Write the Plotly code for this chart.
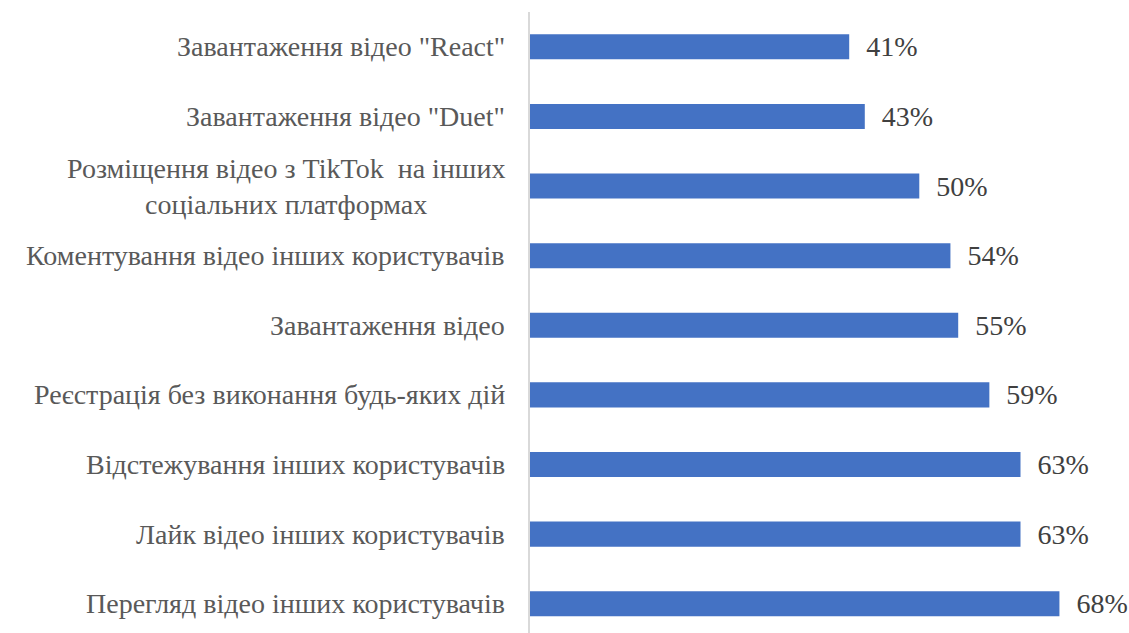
import plotly.graph_objects as go

categories = [
    "Перегляд відео інших користувачів",
    "Лайк відео інших користувачів",
    "Відстежування інших користувачів",
    "Реєстрація без виконання будь-яких дій",
    "Завантаження відео",
    "Коментування відео інших користувачів",
    "Розміщення відео з TikTok\u00a0 на інших<br>соціальних платформах",
    "Завантаження відео \"Duet\"",
    "Завантаження відео \"React\"",
]
values = [0.68, 0.63, 0.63, 0.59, 0.55, 0.54, 0.50, 0.43, 0.41]

FONT = "Times New Roman"

fig = go.Figure(go.Bar(
    y=categories, x=values, orientation="h",
    marker=dict(color="#4472C4", line=dict(width=0)),
    width=0.36,
    texttemplate="\u00a0\u00a0%{x:.0%}",
    textposition="outside",
    constraintext="none",
    textfont=dict(family=FONT, size=28, color="#404040"),
    cliponaxis=False,
))

annotations = []
for c in categories:
    annotations.append(dict(
        x=0, xref="paper", xshift=-23, y=c, yref="y",
        text=c, showarrow=False, xanchor="right", yanchor="middle",
        align="center", font=dict(family=FONT, size=28, color="#595959"),
    ))

fig.update_layout(
    width=1129, height=633,
    margin=dict(l=530, r=54, t=12, b=0),
    paper_bgcolor="white", plot_bgcolor="white",
    showlegend=False,
    font=dict(family=FONT),
    annotations=annotations,
    xaxis=dict(range=[0, 0.7], showgrid=False, showticklabels=False,
               zeroline=False, showline=False),
    yaxis=dict(type="category", categoryorder="array", categoryarray=categories,
               range=[-0.42, 8.5], showticklabels=False, showgrid=False,
               zeroline=False, showline=True, linecolor="#D9D9D9", linewidth=1.5,
               ticks=""),
)

fig.write_html("out.html")
